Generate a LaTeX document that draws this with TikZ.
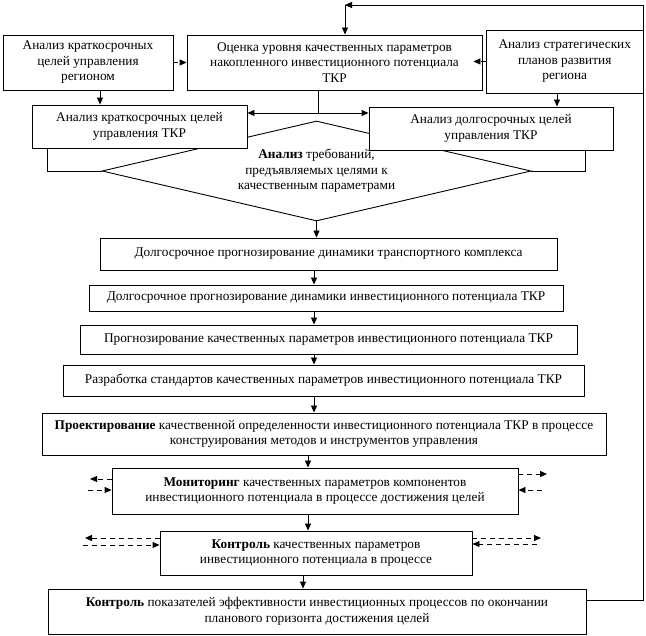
\documentclass[tikz,border=0pt]{standalone}
\usepackage{fontspec}
\setmainfont{Liberation Serif}
\usetikzlibrary{arrows.meta,shapes.geometric}
\begin{document}
\begin{tikzpicture}[x=1pt,y=-1pt,
  font=\fontsize{13.3}{15.5}\selectfont,
  box/.style={draw, line width=0.9pt, fill=white, rectangle, inner sep=0pt, align=center},
  arr/.style={-{Triangle[length=7pt,width=6pt]}, line width=0.9pt},
  plain/.style={line width=0.9pt},
  dasharr/.style={-{Triangle[length=7pt,width=6pt]}, line width=0.9pt, dash pattern=on 5pt off 4pt}]
\useasboundingbox (0,0) rectangle (646,636);
% diamond first (partly hidden by D and E)
\node[draw, line width=0.9pt, fill=white, diamond, aspect=4.3, inner sep=0pt,
      minimum width=429pt, minimum height=100pt, align=center] (dia) at (316.5,171)
  {\textbf{Анализ} требований,\\предъявляемых целями к\\качественным параметрами};
% top row
\node[box, minimum width=170pt, minimum height=55pt] (A) at (88,62.5)
  {Анализ краткосрочных\\целей управления\\регионом};
\node[box, minimum width=295pt, minimum height=55pt] (B) at (334.5,62.5)
  {Оценка уровня качественных параметров\\накопленного инвестиционного потенциала\\ТКР};
\node[box, minimum width=157.5pt, minimum height=63pt] (C) at (564.75,61.5)
  {Анализ стратегических\\планов развития\\региона};
% second row
\node[box, minimum width=215pt, minimum height=43pt] (D) at (139.5,126.5)
  {Анализ краткосрочных целей\\управления ТКР};
\node[box, minimum width=244pt, minimum height=43pt] (E) at (491,128.5)
  {Анализ долгосрочных целей\\управления ТКР};
% chain
\node[box, minimum width=457pt, minimum height=32pt] (F) at (328.5,254)
  {Долгосрочное прогнозирование динамики транспортного комплекса};
\node[box, minimum width=474pt, minimum height=26pt] (G) at (326,298)
  {Долгосрочное прогнозирование динамики инвестиционного потенциала ТКР};
\node[box, minimum width=497pt, minimum height=29pt] (H) at (328.5,339.5)
  {Прогнозирование качественных параметров инвестиционного потенциала ТКР};
\node[box, minimum width=521pt, minimum height=31pt] (I) at (323.5,380.5)
  {Разработка стандартов качественных параметров инвестиционного потенциала ТКР};
\node[box, minimum width=564pt, minimum height=42pt] (J) at (324,434)
  {\textbf{Проектирование} качественной определенности инвестиционного потенциала ТКР в процессе\\конструирования методов и инструментов управления};
\node[box, minimum width=406pt, minimum height=46pt] (K) at (315,491)
  {\textbf{Мониторинг} качественных параметров компонентов\\инвестиционного потенциала в процессе достижения целей};
\node[box, minimum width=312pt, minimum height=44pt] (L) at (316,553)
  {\textbf{Контроль} качественных параметров\\инвестиционного потенциала в процессе};
\node[box, minimum width=538pt, minimum height=45pt] (M) at (317,611.5)
  {\textbf{Контроль} показателей эффективности инвестиционных процессов по окончании\\планового горизонта достижения целей};
% top connectors
\draw[dasharr] (A.east) -- (B.west |- A.east);
\draw[dasharr] (C.west) -- ([xshift=-9pt]C.west -| B.east);
\draw[arr] (A.south -| 100,0) -- (D.north -| 100,0);
\draw[arr] (C.south -| 557,0) -- (E.north -| 557,0);
\coordinate (split) at (318,113);
\draw[plain] (B.south -| split) -- (split);
\draw[arr] (split) -- (split -| D.east);
\draw[arr] (split) -- (split -| E.west);
% D and E to diamond
\draw[plain] ([xshift=16pt]D.south west) |- (dia.west);
\draw[plain] ([xshift=-28pt]E.south east) |- (dia.east);
% chain arrows
\coordinate (ax) at (314,0);
\coordinate (bx) at (308,0);
\coordinate (cx) at (303,0);
\draw[arr] (dia.south) -- (dia.south |- F.north);
\draw[arr] (F.south -| ax) -- (G.north -| ax);
\draw[arr] (G.south -| ax) -- (H.north -| ax);
\draw[arr] (H.south -| ax) -- (I.north -| ax);
\draw[arr] (I.south -| ax) -- (J.north -| ax);
\draw[arr] (J.south -| bx) -- (K.north -| bx);
\draw[arr] (K.south -| bx) -- (L.north -| bx);
\draw[arr] (L.south -| cx) -- (M.north -| cx);
% dashed side arrows at K
\coordinate (kl1) at (90,479);
\coordinate (kl2) at (88,490);
\coordinate (kr1) at (547,474);
\coordinate (kr2) at (542,490);
\draw[dasharr] (K.west |- kl1) -- (kl1);
\draw[dasharr] (kl2) -- (K.west |- kl2);
\draw[dasharr] (K.east |- kr1) -- (kr1);
\draw[dasharr] (kr2) -- (K.east |- kr2);
% dashed side arrows at L
\coordinate (ll1) at (85,538);
\coordinate (ll2) at (83,545);
\coordinate (lr1) at (541,538);
\coordinate (lr2) at (537,544);
\draw[dasharr] (L.west |- ll1) -- (ll1);
\draw[dasharr] (ll2) -- (L.west |- ll2);
\draw[dasharr] (L.east |- lr1) -- (lr1);
\draw[dasharr] (lr2) -- (L.east |- lr2);
% feedback loop
\coordinate (fb1) at (643,600);
\coordinate (fb2) at (643,5);
\coordinate (fb3) at (345,5);
\draw[arr] (M.east |- fb1) -- (fb1) -- (fb2) -- (fb3);
\draw[arr] (fb3) -- (B.north -| fb3);
\end{tikzpicture}
\end{document}
